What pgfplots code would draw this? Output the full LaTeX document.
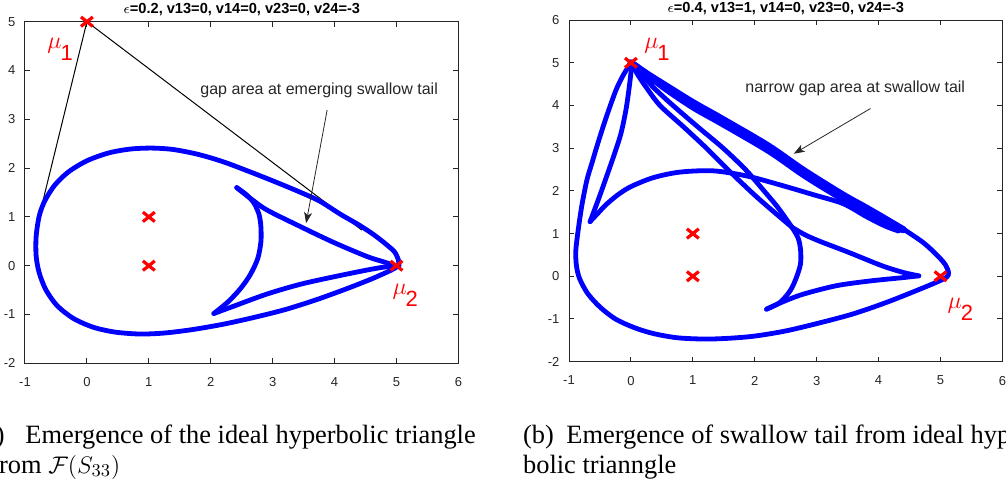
\documentclass[border=0pt]{standalone}
\usepackage{fontspec}
\setmainfont{Liberation Serif}
\newfontfamily\arial{Liberation Sans}
\usepackage{pgfplots}
\pgfplotsset{compat=1.18}
\usetikzlibrary{arrows.meta}
\definecolor{axgray}{rgb}{0.15,0.15,0.15}
\pgfplotsset{
  mstyle/.style={
    scale only axis, width=216.7pt, height=170.8pt,
    axis line style={axgray, line width=0.5pt},
    tick style={axgray, line width=0.5pt},
    major tick length=2.5pt,
    tick align=inside,
    xtick pos=both, ytick pos=both,
    xmin=-1, xmax=6, xtick={-1,0,...,6},
    ticklabel style={font=\arial\fontsize{6.5}{7}\selectfont, text=axgray},
    /pgf/number format/assume math mode=true,
    xticklabel style={yshift=-3.6pt},
    yticklabel style={xshift=-1.3pt},
    clip=false,
    every axis title/.style={at={(0.5,1)}, anchor=base, yshift=3.9pt, inner sep=0pt,
      font=\arial\bfseries\fontsize{7.3}{8}\selectfont},
  },
  curve/.style={blue, line width=2.4pt, line join=round, line cap=round, no marks},
  redx/.style={only marks, mark=x, red, mark size=4.2pt, mark options={line width=1.6pt, yscale=0.8}},
}
\newcommand{\mulab}[1]{$\mu$\kern-0.5pt\raisebox{-6pt}{\arial\fontsize{11}{13}\selectfont #1}}
\begin{document}
\begin{tikzpicture}[x=1pt,y=1pt]
\useasboundingbox (0,0) rectangle (503,242.5);
\clip (0,0) rectangle (503,242.5);

% ---------------- left panel ----------------
\begin{axis}[mstyle, at={(12.5pt,60.85pt)}, anchor=south west,
  ymin=-2, ymax=5, ytick={-2,-1,...,5},
  title={$\epsilon$=0.2, v13=0, v14=0, v23=0, v24=-3}]
\addplot[black, line width=0.5pt] coordinates {(-0.76,1.07) (0,5) (4.44,0.73)};
\addplot[curve, smooth, tension=0.5] coordinates {
(5.04,0.0) (5.03,0.12) (4.97,0.28) (4.85,0.42) (4.65,0.62) (4.40,0.83) (4.10,1.05)
(3.75,1.33) (3.40,1.53) (3.00,1.74) (2.60,1.94) (2.20,2.13) (1.80,2.28) (1.40,2.38)
(1.05,2.41) (0.70,2.39) (0.35,2.31) (0.00,2.15) (-0.30,1.92) (-0.52,1.65) (-0.68,1.33)
(-0.77,1.02) (-0.82,0.60) (-0.82,0.20) (-0.77,-0.15) (-0.66,-0.50) (-0.48,-0.82)
(-0.22,-1.08) (0.10,-1.26) (0.45,-1.36) (0.85,-1.40) (1.25,-1.38) (1.70,-1.31)
(2.20,-1.20) (2.70,-1.06) (3.20,-0.90) (3.70,-0.70) (4.20,-0.47) (4.60,-0.27)
(4.90,-0.10) (5.04,0.0)};
\addplot[curve, smooth, tension=0.5] coordinates {
(2.42,1.60) (2.58,1.45) (2.70,1.28) (2.78,1.05) (2.81,0.80) (2.81,0.49) (2.76,0.15)
(2.64,-0.18) (2.48,-0.47) (2.28,-0.74) (2.05,-0.98)};
\addplot[curve, smooth, tension=0.5] coordinates {
(2.05,-0.98) (2.37,-0.83) (2.91,-0.58) (3.45,-0.38) (3.98,-0.23) (4.52,-0.09) (4.79,-0.03) (4.98,0.0)};
\addplot[curve, smooth, tension=0.5] coordinates {
(4.98,0.0) (4.79,0.08) (4.52,0.19) (3.98,0.48) (3.45,0.80) (2.91,1.14) (2.64,1.38) (2.42,1.60)};
\addplot[redx] coordinates {(0,5) (1,1) (1,0) (5,0)};
\draw[axgray, line width=0.4pt, -{Stealth[length=5.5pt, width=4pt, inset=1.5pt]}]
  (axis cs:3.88,3.19) -- (axis cs:3.54,0.87);
\node[anchor=base west, inner sep=0pt, text=axgray, font=\arial\fontsize{8}{9.6}\selectfont]
  at (axis cs:1.827,3.51) {gap area at emerging swallow tail};
\node[anchor=base west, inner sep=0pt, red, font=\fontsize{13}{15}\selectfont]
  at (axis cs:-0.645,4.46) {\mulab{1}};
\node[anchor=base west, inner sep=0pt, red, font=\fontsize{13}{15}\selectfont]
  at (axis cs:4.93,-0.60) {\mulab{2}};
\end{axis}

% ---------------- right panel ----------------
\begin{axis}[mstyle, at={(284.5pt,61.65pt)}, anchor=south west,
  ymin=-2, ymax=6, ytick={-2,-1,...,6},
  title={$\epsilon$=0.4, v13=1, v14=0, v23=0, v24=-3}]
% outer curve (upper edge of the band at the end)
\addplot[curve, smooth, tension=0.5] coordinates {
(0.0,5.0) (-0.12,4.72) (-0.23,4.40) (-0.34,3.97) (-0.45,3.50) (-0.55,3.04) (-0.63,2.65)
(-0.71,2.26) (-0.79,1.68) (-0.85,1.10) (-0.89,0.60) (-0.88,0.25) (-0.83,-0.05)
(-0.70,-0.40) (-0.50,-0.72) (-0.25,-1.00) (0.05,-1.20) (0.36,-1.34) (0.75,-1.44)
(1.20,-1.47) (1.60,-1.45) (2.00,-1.40) (2.50,-1.28) (3.05,-1.09) (3.59,-0.88)
(4.13,-0.61) (4.67,-0.30) (4.95,-0.13) (5.10,-0.02) (5.13,0.08) (5.08,0.27)
(4.94,0.50) (4.73,0.78) (4.46,1.05) (4.19,1.30) (3.80,1.63) (3.43,1.93) (2.80,2.50)
(2.22,3.08) (1.44,3.74) (1.00,4.10) (0.50,4.55) (0.0,5.0)};
% further lines of the band
\addplot[curve, line width=3.6pt, smooth, tension=0.5] coordinates {
(0.0,5.0) (0.50,4.49) (1.00,4.02) (1.44,3.66) (2.22,3.00) (2.80,2.42) (3.43,1.85)
(3.80,1.56) (4.19,1.26) (4.40,1.09)};
\addplot[curve, smooth, tension=0.5] coordinates {
(0.0,5.0) (0.50,4.43) (1.00,3.94) (1.44,3.58) (2.22,2.92) (2.80,2.34) (3.43,1.78)
(3.80,1.49) (4.10,1.26) (4.35,1.08)};
% inner left line to the left cusp
\addplot[curve, smooth, tension=0.5] coordinates {
(0.0,5.0) (0.01,4.90) (-0.03,4.40) (-0.08,3.90) (-0.16,3.35) (-0.27,2.85) (-0.39,2.35)
(-0.52,1.82) (-0.66,1.28)};
% upper arc
\addplot[curve, smooth, tension=0.5] coordinates {
(-0.66,1.28) (-0.55,1.45) (-0.40,1.68) (-0.20,1.92) (0.00,2.10) (0.36,2.31) (0.79,2.44)
(1.33,2.47) (1.87,2.35) (2.41,2.14) (2.95,1.91) (3.43,1.70) (3.80,1.40) (4.10,1.18)
(4.32,1.06)};
% two lines from mu1 to the swallow tail
\addplot[curve, smooth, tension=0.5] coordinates {
(0,5) (0.12,4.70) (0.25,4.42) (0.47,4.0) (0.85,3.50) (1.22,3.0) (1.60,2.45) (2.00,1.90)
(2.30,1.52) (2.60,1.15)};
\addplot[curve, smooth, tension=0.5] coordinates {
(0,5) (0.18,4.72) (0.38,4.40) (0.68,4.0) (1.08,3.50) (1.49,3.0) (1.85,2.50) (2.15,2.00)
(2.38,1.60) (2.60,1.15)};
% swallow tail
\addplot[curve, smooth, tension=0.5] coordinates {
(2.60,1.15) (2.80,0.98) (3.05,0.82) (3.50,0.57) (4.05,0.25) (4.40,0.09) (4.65,0.01)};
\addplot[curve, smooth, tension=0.5] coordinates {
(4.65,0.01) (4.40,-0.03) (3.86,-0.11) (3.32,-0.22) (2.78,-0.42) (2.45,-0.60) (2.19,-0.77)};
\addplot[curve, smooth, tension=0.5] coordinates {
(2.19,-0.77) (2.41,-0.61) (2.58,-0.32) (2.68,0.0) (2.74,0.30) (2.74,0.62) (2.70,0.90) (2.60,1.15)};
\addplot[redx] coordinates {(0,5) (1,1) (1,0) (5,0)};
\draw[axgray, line width=0.4pt, -{Stealth[length=5.5pt, width=4pt, inset=1.5pt]}]
  (axis cs:3.87,3.93) -- (axis cs:2.63,2.87);
\node[anchor=base west, inner sep=0pt, text=axgray, font=\arial\fontsize{8}{9.6}\selectfont]
  at (axis cs:1.843,4.307) {narrow gap area at swallow tail};
\node[anchor=base west, inner sep=0pt, red, font=\fontsize{13}{15}\selectfont]
  at (axis cs:0.21,5.34) {\mulab{1}};
\node[anchor=base west, inner sep=0pt, red, font=\fontsize{13}{15}\selectfont]
  at (axis cs:5.11,-0.75) {\mulab{2}};
\end{axis}

% ---------------- captions ----------------
\begin{scope}[every node/.style={inner sep=0pt, font=\fontsize{13.2}{16}\selectfont}]
\node[anchor=base east] at (2.5,20.85) {(a)};
\node[anchor=base west] at (12.5,20.85) {Emergence of the ideal hyperbolic triangle};
\node[anchor=base west] at (-5,5.85) {from $\mathcal{F}(S_{33})$};
\node[anchor=base west] at (261.35,20.85) {(b)};
\node[anchor=base west] at (283,20.85) {Emergence of swallow tail from ideal hyper-};
\node[anchor=base west] at (261.35,5.85) {bolic trianngle};
\end{scope}
\end{tikzpicture}
\end{document}
